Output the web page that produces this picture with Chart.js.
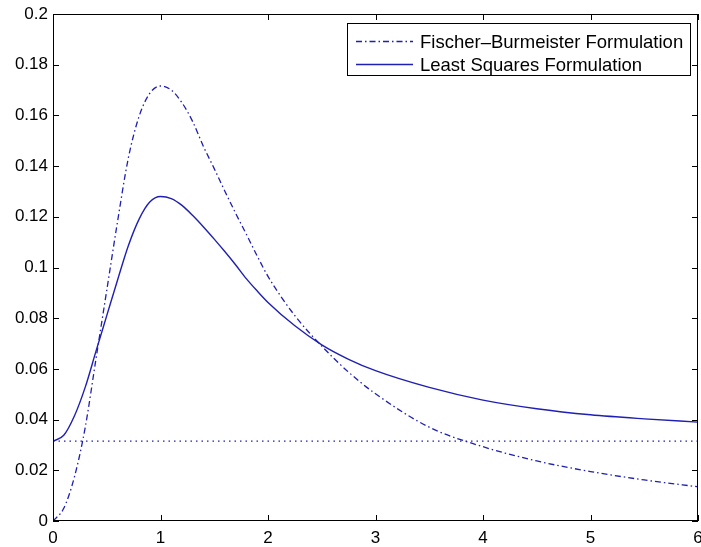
<!DOCTYPE html>
<html lang="en">
<head>
<meta charset="UTF-8">
<title>Fischer–Burmeister vs Least Squares</title>
<style>
  body { margin: 0; background: #fff; }
  #wrap { width: 701px; height: 547px; }
</style>
</head>
<body>
<div id="wrap"><canvas id="plot"></canvas></div>
<script src="https://cdn.jsdelivr.net/npm/chart.js"></script>
<script>
// sample points along x
const xs = [0, 0.1, 0.2, 0.3, 0.4, 0.5, 0.6, 0.7, 0.8, 0.9, 1.0,
            1.1, 1.2, 1.3, 1.4, 1.5, 1.6, 1.7, 1.8, 1.9, 2.0,
            2.25, 2.5, 2.75, 3.0, 3.5, 4.0, 4.5, 5.0, 5.5, 6.0];
const fbValues = [0.000, 0.005, 0.0175, 0.037, 0.064, 0.091, 0.118, 0.143, 0.1595, 0.1687, 0.1716,
                  0.170, 0.165, 0.1575, 0.1477, 0.139, 0.130, 0.1213, 0.113, 0.1045, 0.0965,
                  0.081, 0.069, 0.0587, 0.0502, 0.037, 0.0293, 0.0237, 0.0195, 0.0162, 0.0135];
const lsValues = [0.0315, 0.0338, 0.0415, 0.0528, 0.067, 0.081, 0.095, 0.1085, 0.119, 0.1258, 0.128,
                  0.1272, 0.1245, 0.1205, 0.116, 0.1112, 0.1062, 0.101, 0.0955, 0.0907, 0.0862,
                  0.077, 0.0695, 0.0638, 0.0593, 0.0527, 0.0477, 0.0443, 0.0419, 0.0403, 0.0390];
const baseline = 0.0315;
const xTicks = [0, 1, 2, 3, 4, 5, 6];
const yTicks = [0, 0.02, 0.04, 0.06, 0.08, 0.1, 0.12, 0.14, 0.16, 0.18, 0.2];

const FONT = "'Liberation Sans', Arial, Helvetica, sans-serif";
const BLUE = '#1f1fb4';

// box around the axes + inward ticks on all four sides
const framePlugin = {
  id: 'frame',
  afterDatasetsDraw(chart) {
    const { ctx, chartArea: a, scales } = chart;
    const len = 6;
    ctx.save();
    ctx.strokeStyle = '#000';
    ctx.lineWidth = 1;
    ctx.strokeRect(a.left + 0.5, a.top + 0.5, a.right - a.left - 1, a.bottom - a.top - 1);
    ctx.beginPath();
    xTicks.forEach(v => {
      const px = Math.round(scales.x.getPixelForValue(v)) + 0.5;
      ctx.moveTo(px, a.bottom); ctx.lineTo(px, a.bottom - len);
      ctx.moveTo(px, a.top); ctx.lineTo(px, a.top + len);
    });
    yTicks.forEach(v => {
      const py = Math.round(scales.y.getPixelForValue(v)) + 0.5;
      ctx.moveTo(a.left, py); ctx.lineTo(a.left + len, py);
      ctx.moveTo(a.right, py); ctx.lineTo(a.right - len, py);
    });
    ctx.stroke();
    ctx.restore();
  }
};

// boxed legend in the upper right corner
const boxLegend = {
  id: 'boxLegend',
  afterDraw(chart) {
    const { ctx, chartArea: a } = chart;
    const items = chart.data.datasets.filter(d => d.label);
    ctx.save();
    ctx.font = '18.5px ' + FONT;
    const textW = Math.max(...items.map(d => ctx.measureText(d.label).width));
    const sample = 57, gap = 7, padL = 9, padR = 7, rowH = 23;
    const w = padL + sample + gap + textW + padR;
    const h = 52;
    const x0 = Math.round(a.right - 8 - w);
    const y0 = a.top + 9;
    ctx.fillStyle = '#fff';
    ctx.fillRect(x0, y0, w, h);
    ctx.strokeStyle = '#000';
    ctx.lineWidth = 1;
    ctx.strokeRect(x0 + 0.5, Math.round(y0) + 0.5, Math.round(w), h);
    items.forEach((d, i) => {
      const cy = Math.round(y0 + 18 + rowH * i) + 0.5;
      ctx.strokeStyle = d.borderColor;
      ctx.lineWidth = d.borderWidth;
      ctx.setLineDash(d.borderDash || []);
      ctx.beginPath();
      ctx.moveTo(x0 + padL, cy);
      ctx.lineTo(x0 + padL + sample, cy);
      ctx.stroke();
      ctx.setLineDash([]);
      ctx.fillStyle = '#000';
      ctx.textBaseline = 'middle';
      ctx.fillText(d.label, x0 + padL + sample + gap, cy + 1);
    });
    ctx.restore();
  }
};

const toPoints = ys => xs.map((x, i) => ({ x: x, y: ys[i] }));

new Chart(document.getElementById('plot'), {
  type: 'line',
  data: {
    datasets: [
      {
        label: 'Fischer\u2013Burmeister Formulation',
        data: toPoints(fbValues),
        borderColor: BLUE,
        borderWidth: 1.3,
        borderDash: [6, 3, 1.5, 3],
        pointRadius: 0,
        cubicInterpolationMode: 'monotone'
      },
      {
        label: 'Least Squares Formulation',
        data: toPoints(lsValues),
        borderColor: BLUE,
        borderWidth: 1.4,
        pointRadius: 0,
        cubicInterpolationMode: 'monotone'
      },
      {
        label: '',
        data: [{ x: xTicks[0], y: baseline }, { x: xTicks[xTicks.length - 1], y: baseline }],
        borderColor: BLUE,
        borderWidth: 1.2,
        borderDash: [1.5, 4],
        pointRadius: 0
      }
    ]
  },
  options: {
    responsive: true,
    maintainAspectRatio: false,
    animation: false,
    layout: { padding: { top: 14, right: 3, left: 0, bottom: 0 } },
    plugins: {
      legend: { display: false },
      tooltip: { enabled: false }
    },
    scales: {
      x: {
        type: 'linear',
        min: 0,
        max: 6,
        afterBuildTicks: s => { s.ticks = xTicks.map(v => ({ value: v })); },
        afterFit: s => { s.height = 26; s.paddingLeft = 0; s.paddingRight = 0; },
        grid: { display: false, drawTicks: false },
        border: { display: false },
        ticks: {
          padding: 7,
          color: '#000',
          font: { family: FONT, size: 17 },
          maxRotation: 0,
          callback: v => String(v)
        }
      },
      y: {
        min: 0,
        max: 0.2,
        afterBuildTicks: s => { s.ticks = yTicks.map(v => ({ value: v })); },
        afterFit: s => { s.width = 53; s.paddingTop = 0; s.paddingBottom = 0; },
        grid: { display: false, drawTicks: false },
        border: { display: false },
        ticks: {
          padding: 5,
          color: '#000',
          font: { family: FONT, size: 17 },
          callback: v => String(Number(v.toFixed(2)))
        }
      }
    }
  },
  plugins: [framePlugin, boxLegend]
});
</script>
</body>
</html>
